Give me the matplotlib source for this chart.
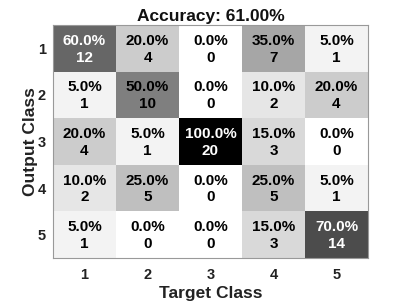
import numpy as np
import matplotlib
matplotlib.use('Agg')
import matplotlib.pyplot as plt

plt.rcParams['font.family'] = ['Liberation Sans', 'DejaVu Sans']

classes = ['1', '2', '3', '4', '5']
# rows = output class, columns = target class
counts = np.array([
    [12, 4, 0, 7, 1],
    [1, 10, 0, 2, 4],
    [4, 1, 20, 3, 0],
    [2, 5, 0, 5, 1],
    [1, 0, 0, 3, 14],
])
title = 'Accuracy: 61.00%'

pct = counts / counts.sum(axis=0, keepdims=True) * 100

fig = plt.figure(figsize=(4.07, 3.05), dpi=100)
ax = fig.add_axes([53 / 407, 1 - 258 / 305, 315 / 407, 233 / 305])
ax.imshow(pct, cmap='gray_r', vmin=0, vmax=100, aspect='auto',
          interpolation='nearest')

for i in range(len(classes)):
    for j in range(len(classes)):
        col = 'white' if pct[i, j] > 55 else 'black'
        ax.text(j, i + 0.02, f'{pct[i, j]:.1f}%\n{counts[i, j]}', ha='center',
                va='center', color=col, fontsize=11, fontweight='bold',
                linespacing=1.25)

ax.set_xticks(range(len(classes)))
ax.set_yticks(range(len(classes)))
ax.set_xticklabels(classes, fontsize=10.5, fontweight='bold', color='#222222')
ax.set_yticklabels(classes, fontsize=10.5, fontweight='bold', color='#222222')
ax.tick_params(axis='x', length=0, pad=7)
ax.tick_params(axis='y', length=0, pad=5)
for s in ax.spines.values():
    s.set_color('#999999')
    s.set_linewidth(0.8)
ax.set_xlabel('Target Class', fontsize=12.5, fontweight='bold',
              color='#222222', labelpad=3)
ax.set_ylabel('Output Class', fontsize=12.5, fontweight='bold',
              color='#222222', labelpad=0)
ax.set_title(title, fontsize=12.5, fontweight='bold', color='#111111', pad=3)

fig.savefig('out.png', dpi=100)
